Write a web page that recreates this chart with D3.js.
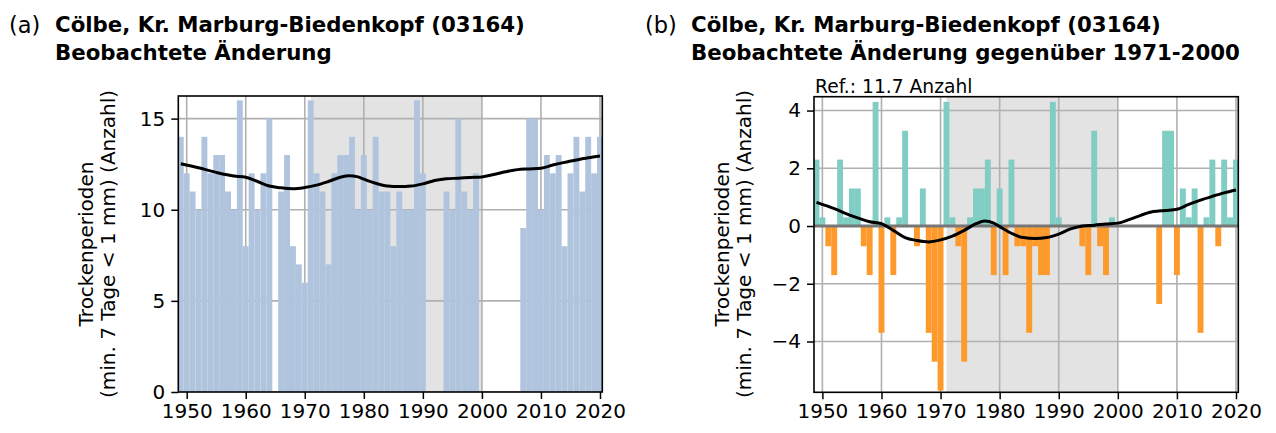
<!DOCTYPE html>
<html>
<head>
<meta charset="utf-8">
<script src="https://cdn.jsdelivr.net/npm/d3@7"></script>
<style>
  body { margin: 0; background: #fff; }
  svg { display: block; font-family: "DejaVu Sans", sans-serif; }
</style>
</head>
<body>
<svg id="chart" width="1276" height="433"></svg>
<script>
// years 1949-2020, null = no data
var years = d3.range(1949, 2021);
var counts = [
  14, 12, 11, 10, 14, 12, 13, 13, 11, 10, 16,  8, 12, 10, 12, 15, null, 11, 13,  8, 7, 6,  // 1949-1970
  16, 12, 11,  7, 12, 13, 13, 14, 10, 13, 10, 14, 11, 11,  8, 11, 10, 10, 16, 12,           // 1971-1990
  null, null, null, 11, 10, 15, 11, 10, 12, null,                                          // 1991-2000
  null, null, null, null, null, null, 9, 15, 15, 10,                                       // 2001-2010
  13, 12, 13, 8, 12, 14, 11, 14, 12, 14                                                   // 2011-2020
];
var refValue = 11.7;
var refPeriod = [1971, 2000];

// smoothed trend
var trendYears  = [1949, 1952, 1955, 1958, 1960, 1962, 1964, 1966, 1968, 1970, 1972, 1974, 1976, 1977.5, 1979,
                   1980, 1982, 1984, 1986, 1988, 1990, 1992, 1994, 1996, 1998, 2000, 2002, 2004, 2006, 2008,
                   2010, 2012, 2014, 2016, 2018, 2020];
var trendValues = [12.52, 12.3, 12.05, 11.85, 11.78, 11.55, 11.3, 11.2, 11.15, 11.22, 11.35, 11.55, 11.78, 11.87, 11.8,
                   11.68, 11.45, 11.3, 11.27, 11.3, 11.42, 11.6, 11.7, 11.73, 11.77, 11.8, 11.93, 12.08, 12.2, 12.24,
                   12.28, 12.45, 12.6, 12.73, 12.85, 12.95];

var yLabel1 = "Trockenperioden";
var yLabel2 = "(min. 7 Tage < 1 mm) (Anzahl)";
var titleLine1 = "Cölbe, Kr. Marburg-Biedenkopf (03164)";

var svg = d3.select("#chart");
var xTicks = [1950, 1960, 1970, 1980, 1990, 2000, 2010, 2020];

var panels = [
  {tag: "(a)", title2: "Beobachtete Änderung", left: 178.3, right: 602.3, top: 96, bottom: 392,
   yDomain: [0, 16.24], yTicks: [0, 5, 10, 15], anomaly: false, off: 0},
  {tag: "(b)", title2: "Beobachtete Änderung gegenüber 1971-2000", left: 814, right: 1238.3, top: 96.7, bottom: 392.3,
   yDomain: [-5.76, 4.48], yTicks: [-4, -2, 0, 2, 4], anomaly: true, off: 636}
];

panels.forEach(function(p, i) {
  var x = d3.scaleLinear().domain([1948.58, 2020.39]).range([p.left, p.right]);
  var y = d3.scaleLinear().domain(p.yDomain).range([p.bottom, p.top]);
  var g = svg.append("g");

  g.append("clipPath").attr("id", "clip" + i)
    .append("rect")
    .attr("x", p.left).attr("y", p.top)
    .attr("width", p.right - p.left).attr("height", p.bottom - p.top);

  var plot = g.append("g").attr("clip-path", "url(#clip" + i + ")");

  // reference period
  plot.append("rect")
    .attr("x", x(refPeriod[0])).attr("y", p.top)
    .attr("width", x(refPeriod[1]) - x(refPeriod[0]))
    .attr("height", p.bottom - p.top)
    .attr("fill", "#e3e3e3");

  // grid
  plot.selectAll(".vgrid").data(xTicks).enter().append("line")
    .attr("x1", function(d) { return x(d); }).attr("x2", function(d) { return x(d); })
    .attr("y1", p.top).attr("y2", p.bottom)
    .attr("stroke", "#b0b0b0").attr("stroke-width", 1.6);
  plot.selectAll(".hgrid").data(p.yTicks).enter().append("line")
    .attr("x1", p.left).attr("x2", p.right)
    .attr("y1", function(d) { return y(d); }).attr("y2", function(d) { return y(d); })
    .attr("stroke", "#b0b0b0").attr("stroke-width", 1.6);

  var data = years.map(function(yr, k) { return {year: yr, v: counts[k]}; })
    .filter(function(d) { return d.v !== null; });

  plot.selectAll(".bar").data(data).enter().append("rect")
    .attr("x", function(d) { return x(d.year - 0.5); })
    .attr("width", function(d) { return x(d.year + 0.5) - x(d.year - 0.5); })
    .attr("y", function(d) {
      var v = p.anomaly ? d.v - refValue : d.v;
      return y(Math.max(0, v));
    })
    .attr("height", function(d) {
      var v = p.anomaly ? d.v - refValue : d.v;
      return Math.abs(y(v) - y(0));
    })
    .attr("fill", function(d) {
      if (!p.anomaly) return "#b0c4de";
      return d.v - refValue >= 0 ? "#7fcdc3" : "#fe9a2c";
    });

  if (p.anomaly) {
    plot.append("line")
      .attr("x1", p.left).attr("x2", p.right)
      .attr("y1", y(0)).attr("y2", y(0))
      .attr("stroke", "#777").attr("stroke-width", 3);
  }

  var line = d3.line()
    .x(function(d) { return x(d[0]); })
    .y(function(d) { return y(p.anomaly ? d[1] - refValue : d[1]); })
    .curve(d3.curveMonotoneX);
  plot.append("path")
    .datum(trendYears.map(function(yr, k) { return [yr, trendValues[k]]; }))
    .attr("d", line)
    .attr("fill", "none").attr("stroke", "#000").attr("stroke-width", 3);

  // frame
  g.append("rect")
    .attr("x", p.left).attr("y", p.top)
    .attr("width", p.right - p.left).attr("height", p.bottom - p.top)
    .attr("fill", "none").attr("stroke", "#000").attr("stroke-width", 1.6);

  // axes
  var xAxis = g.append("g").attr("transform", "translate(0," + p.bottom + ")")
    .call(d3.axisBottom(x).tickValues(xTicks).tickFormat(d3.format("d")).tickSize(7).tickPadding(5));
  var yAxis = g.append("g").attr("transform", "translate(" + p.left + ",0)")
    .call(d3.axisLeft(y).tickValues(p.yTicks).tickSize(7).tickPadding(6)
      .tickFormat(function(d) { return d < 0 ? "\u2212" + Math.abs(d) : d; }));
  [xAxis, yAxis].forEach(function(a) {
    a.select(".domain").remove();
    a.selectAll("line").attr("stroke", "#000").attr("stroke-width", 1.5);
    a.selectAll("text").attr("font-size", 20).attr("font-family", "DejaVu Sans").attr("fill", "#000");
  });

  // y label
  g.append("text")
    .attr("transform", "translate(" + (93 + p.off) + "," + 244 + ") rotate(-90)")
    .attr("text-anchor", "middle").attr("font-size", 20)
    .text(yLabel1);
  g.append("text")
    .attr("transform", "translate(" + (115 + p.off) + "," + 244 + ") rotate(-90)")
    .attr("text-anchor", "middle").attr("font-size", 20)
    .text(yLabel2);

  // titles
  g.append("text").attr("x", 9 + p.off).attr("y", 33)
    .attr("font-size", 22.5).text(p.tag);
  g.append("text").attr("x", 55 + p.off).attr("y", 32)
    .attr("font-size", 21.3).attr("font-weight", "bold").text(titleLine1);
  g.append("text").attr("x", 55 + p.off).attr("y", 60)
    .attr("font-size", 21.3).attr("font-weight", "bold").text(p.title2);

  if (p.anomaly) {
    g.append("text").attr("x", p.left + 1).attr("y", p.top - 4)
      .attr("font-size", 18.7).text("Ref.: " + refValue + " Anzahl");
  }
});
</script>
</body>
</html>
